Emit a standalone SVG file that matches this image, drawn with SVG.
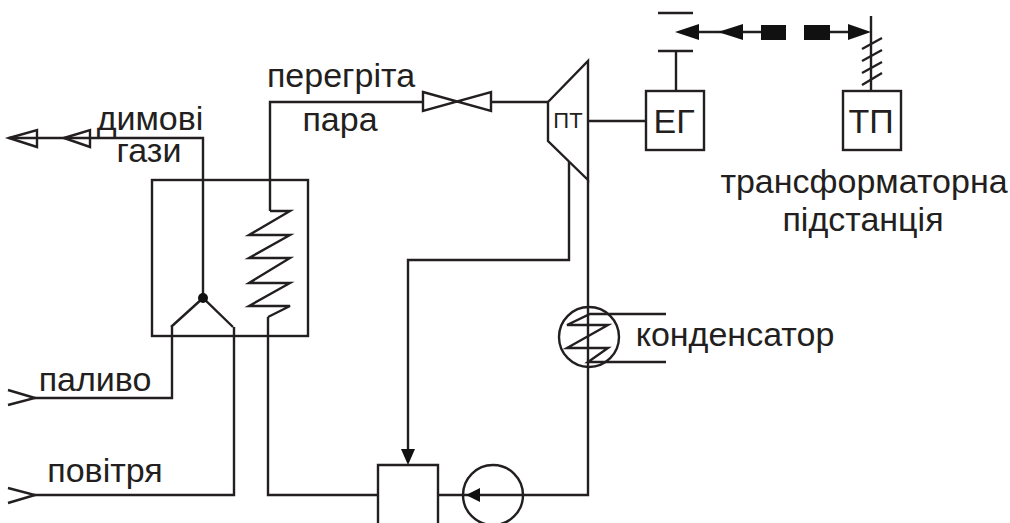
<svg xmlns="http://www.w3.org/2000/svg" width="1010" height="523" viewBox="0 0 1010 523">
<style>
.l{fill:none;stroke:#231f20;stroke-width:2.4;stroke-linejoin:miter}
.s{fill:#fff;stroke:#231f20;stroke-width:2.4}
.f{fill:#111;stroke:none}
text{font-family:"Liberation Sans",Arial,sans-serif;font-size:34px;fill:#231f20;text-anchor:middle}
</style>
<rect width="1010" height="523" fill="#fff"/>
<g id="connectors">
<path class="l" d="M9 138H203V298"/>
<path class="l" d="M270 211V102H423M491 102H548"/>
<path class="l" d="M588 121H646"/>
<path class="l" d="M588 180V495H438"/>
<path class="l" d="M569 162V260H408V450"/>
<path class="l" d="M268 317V495H378"/>
<path class="l" d="M34 398H172V327"/>
<path class="l" d="M34 495H234V327"/>
<path class="l" d="M676 91V51"/>
<path class="l" d="M871 91V16"/>
<path class="l" d="M699 32H761M830 32H850"/>
<path class="l" d="M862 49L882 38M862 61L882 50M862 73L882 62M862 85L882 73"/>
<path class="l" d="M8 390L35 398L8 405M8 488L35 495L8 503"/>
<path class="f" d="M675 32L699 24V40ZM718 32L743 24V40ZM871 32L848 24V40ZM408 465L401 449H415ZM466 495L480 488V502Z"/>
</g>
<g id="boiler">
<rect class="l" x="152" y="180" width="156" height="156"/>
<path class="l" d="M171 327L203 298L233 327"/>
<circle class="f" cx="203" cy="298" r="5"/>
<path class="l" d="M270 211H290L249 235H290L249 258H290L249 283H290L249 306H290L268 317"/>
</g>
<g id="flue-arrows">
<path class="l" d="M9 138L37 130V147ZM64 138L90 130V147Z"/>
</g>
<g id="valve"><path class="s" d="M423 92L491 111V92L423 111Z"/></g>
<g id="turbine">
<path class="s" d="M548 102L588 61V180L548 141Z"/>
<text x="568" y="128" style="font-size:22px">ПТ</text>
</g>
<g id="generator">
<rect class="s" x="646" y="91" width="58" height="59"/>
<text x="674" y="133">ЕГ</text>
</g>
<g id="substation">
<rect class="s" x="843" y="91" width="58" height="59"/>
<text x="871" y="133">ТП</text>
</g>
<g id="breaker">
<path class="l" d="M658 13H693M658 51H693"/>
<rect class="f" x="761" y="25" width="25" height="15"/>
<rect class="f" x="804" y="25" width="26" height="15"/>
</g>
<g id="condenser">
<circle class="l" cx="589" cy="337" r="30"/>
<path class="l" d="M666 314H590L567 325H608L567 348H608L588 362H666"/>
</g>
<g id="pump"><circle class="l" cx="493" cy="495" r="30"/></g>
<g id="deaerator"><path class="l" d="M378 523V465H438V523"/></g>
<g id="labels">
<text x="150" y="130">димові</text>
<text x="149" y="162">гази</text>
<text x="341" y="87">перегріта</text>
<text x="340" y="131">пара</text>
<text x="864" y="193">трансформаторна</text>
<text x="863" y="231">підстанція</text>
<text x="735" y="346">конденсатор</text>
<text x="95" y="391">паливо</text>
<text x="105" y="482">повітря</text>
</g>
</svg>
